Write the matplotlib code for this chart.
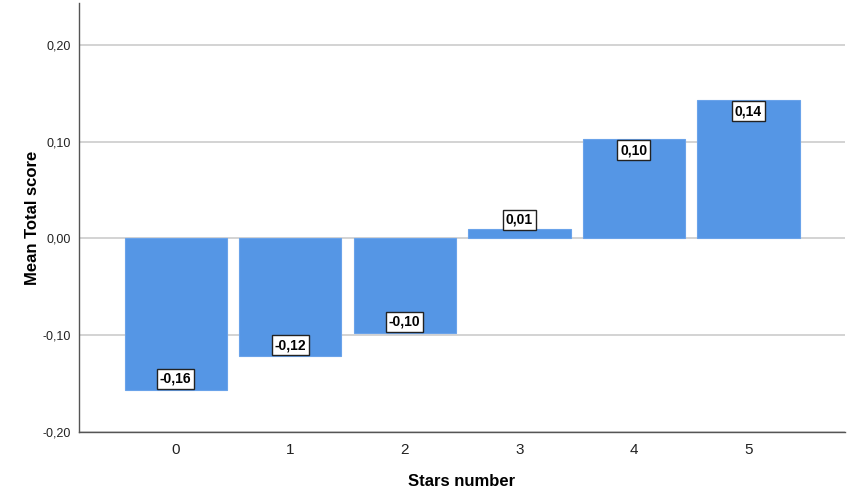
import matplotlib
matplotlib.use('Agg')
import matplotlib.pyplot as plt

# data
stars = ['0', '1', '2', '3', '4', '5']
mean_score = [-0.1565, -0.1214, -0.0975, 0.0098, 0.1023, 0.1425]
labels = ['-0,16', '-0,12', '-0,10', '0,01', '0,10', '0,14']
yticks = [-0.20, -0.10, 0.00, 0.10, 0.20]

plt.rcParams['font.family'] = ['Liberation Sans', 'DejaVu Sans']

fig = plt.figure(figsize=(8.54, 5.04), dpi=100)
ax = fig.add_axes([0.0925, 0.1429, 0.897, 0.851])

x = list(range(len(stars)))
ax.bar(x, mean_score, width=0.895, color='#5596e5', edgecolor='#6aa3ea',
       linewidth=0.8, zorder=2)

box = dict(boxstyle='square,pad=0.2', facecolor='white', edgecolor='#222222', linewidth=1)
for i, v in enumerate(mean_score):
    if abs(v) < 0.03:
        # too short for the label to fit inside
        ax.text(i, v + 0.002, labels[i], ha='center', va='bottom', fontsize=10,
                fontweight='bold', bbox=box, zorder=3)
    elif v > 0:
        ax.text(i, v - 0.004, labels[i], ha='center', va='top', fontsize=10,
                fontweight='bold', bbox=box, zorder=3)
    else:
        ax.text(i, v + 0.004, labels[i], ha='center', va='bottom', fontsize=10,
                fontweight='bold', bbox=box, zorder=3)

ax.set_xlim(-0.845, 5.845)
ax.set_ylim(-0.20, 0.243)
ax.set_xticks(x)
ax.set_xticklabels(stars, fontsize=11, color='#222222')
ax.set_yticks(yticks)
ax.set_yticklabels([('%.2f' % t).replace('.', ',') for t in yticks], fontsize=9, color='#222222')
ax.tick_params(length=0, pad=6)
ax.tick_params(axis='x', pad=8)

ax.yaxis.grid(True, color='#cccccc', linewidth=1.2, zorder=0)
ax.set_axisbelow(True)
for s in ['top', 'right']:
    ax.spines[s].set_visible(False)
for s in ['left', 'bottom']:
    ax.spines[s].set_color('#555555')
    ax.spines[s].set_linewidth(1)

ax.set_xlabel('Stars number', fontsize=12, fontweight='bold', labelpad=12)
ax.set_ylabel('Mean Total score', fontsize=12, fontweight='bold', labelpad=2)

fig.savefig('out.png', dpi=100)
